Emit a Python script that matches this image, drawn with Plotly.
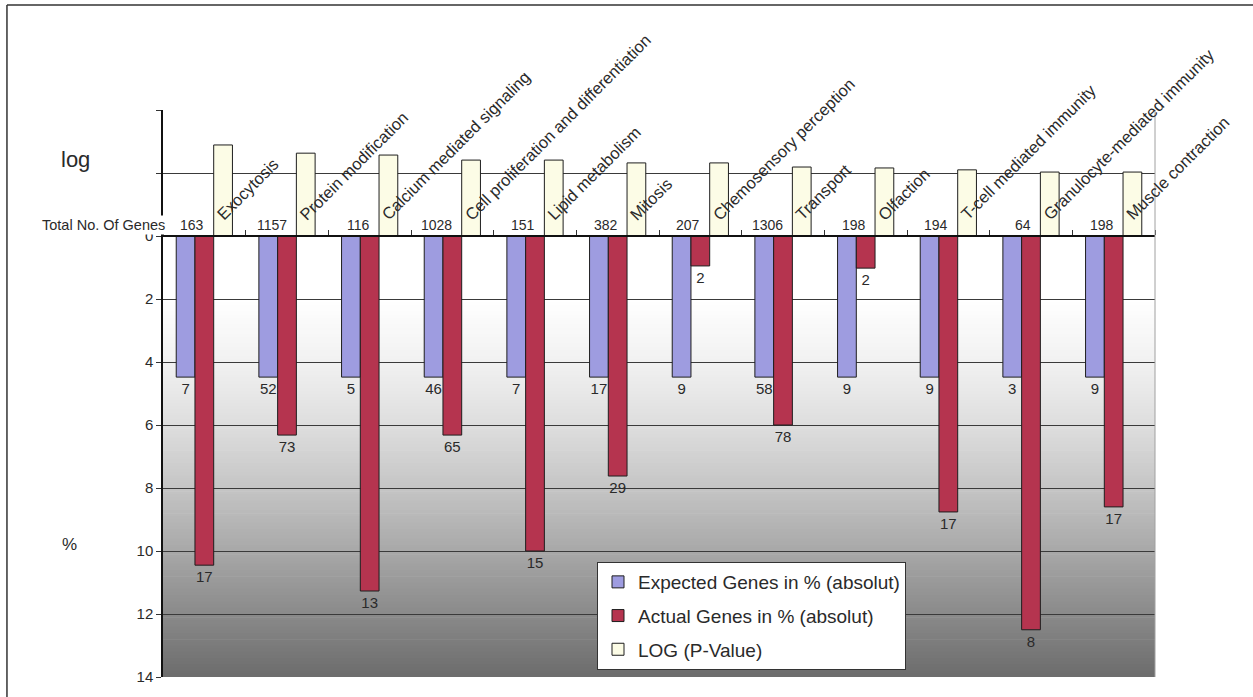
import numpy as np
import plotly.graph_objects as go

categories = ["Exocytosis", "Protein modification", "Calcium mediated signaling",
              "Cell proliferation and differentiation", "Lipid metabolism", "Mitosis",
              "Chemosensory perception", "Transport", "Olfaction",
              "T-cell mediated immunity", "Granulocyte-mediated immunity", "Muscle contraction"]
total_genes = [163, 1157, 116, 1028, 151, 382, 207, 1306, 198, 194, 64, 198]
expected_pct = [4.48] * 12
expected_abs = [7, 52, 5, 46, 7, 17, 9, 58, 9, 9, 3, 9]
actual_pct = [10.45, 6.32, 11.27, 6.32, 10.0, 7.62, 0.95, 6.0, 1.02, 8.76, 12.5, 8.6]
actual_abs = [17, 73, 13, 65, 15, 29, 2, 78, 2, 17, 8, 17]
log_p = [-2.89, -2.63, -2.57, -2.41, -2.41, -2.32, -2.32, -2.19, -2.16, -2.10, -2.03, -2.03]
y_ticks = [-4, -2, 0, 2, 4, 6, 8, 10, 12, 14]
y_ticktext = ["", "", "0", "2", "4", "6", "8", "10", "12", "14"]

FONT = "Arial, Liberation Sans, sans-serif"
TXT = "#2a2a2a"
EDGE = "#1e1e1e"

fig = go.Figure()
fig.add_bar(x=categories, y=expected_pct, name="Expected Genes in % (absolut)", legendgroup="e",
            marker=dict(color="#9e9ce0", line=dict(color=EDGE, width=1)),
            text=[str(v) for v in expected_abs], textposition="outside",
            textfont=dict(size=15, color=TXT, family=FONT), constraintext="none",
            cliponaxis=False)
fig.add_bar(x=categories, y=actual_pct, name="Actual Genes in % (absolut)", legendgroup="a",
            marker=dict(color="#b5344f", line=dict(color=EDGE, width=1)),
            text=[str(v) for v in actual_abs], textposition="outside",
            textfont=dict(size=15, color=TXT, family=FONT), constraintext="none",
            cliponaxis=False)
fig.add_bar(x=categories, y=log_p, name="LOG (P-Value)", legendgroup="l",
            marker=dict(color="#fcfce6", line=dict(color=EDGE, width=1)))

# background gradient (white -> gray) in the % region
shapes = []
gv = [2, 4, 6, 8, 10, 12, 14]
gg = [255, 241, 222, 197, 168, 138, 108]
step = 0.1
for v0 in np.arange(2, 14, step):
    g = int(round(np.interp(v0 + step / 2, gv, gg)))
    shapes.append(dict(type="rect", xref="paper", yref="y", x0=0, x1=1, y0=v0, y1=v0 + step + 0.02,
                       fillcolor=f"rgb({g},{g},{g})", line=dict(width=0), layer="below"))
# right border of plot area
shapes.append(dict(type="line", xref="paper", yref="paper", x0=1, x1=1, y0=0, y1=1,
                   line=dict(color="#a0a0a0", width=1)))
# outer frame (top & left)
shapes.append(dict(type="line", xref="paper", yref="paper", x0=-0.1573, x1=1.2, y0=1.1852, y1=1.1852,
                   line=dict(color="#333333", width=1.5)))
shapes.append(dict(type="line", xref="paper", yref="paper", x0=-0.1573, x1=-0.1573, y0=-0.1, y1=1.1852,
                   line=dict(color="#333333", width=1.5)))

annotations = []
for c, n in zip(categories, total_genes):
    annotations.append(dict(x=c, y=0, xref="x", yref="y", text=str(n), showarrow=False,
                            xanchor="right", yanchor="bottom", xshift=2, yshift=1,
                            font=dict(size=14, color=TXT, family=FONT)))
for c in categories:
    annotations.append(dict(x=c, y=0, xref="x", yref="y", text=c, showarrow=False,
                            textangle=-45, xanchor="left", yanchor="bottom", xshift=6, yshift=10,
                            font=dict(size=16.5, color=TXT, family=FONT)))
annotations.append(dict(x=0.004, y=0, xref="paper", yref="y", text="Total No. Of Genes", showarrow=False,
                        xanchor="right", yanchor="bottom", yshift=1, bgcolor="white",
                        font=dict(size=14.5, color=TXT, family=FONT)))
annotations.append(dict(x=-0.0887, y=0.912, xref="paper", yref="paper", text="log", showarrow=False,
                        xanchor="center", yanchor="middle", font=dict(size=22, color=TXT, family=FONT)))
annotations.append(dict(x=-0.094, y=0.233, xref="paper", yref="paper", text="%", showarrow=False,
                        xanchor="center", yanchor="middle", font=dict(size=17, color=TXT, family=FONT)))

fig.update_layout(
    width=1253, height=697,
    margin=dict(l=163, r=98, t=110, b=20),
    paper_bgcolor="white", plot_bgcolor="white",
    barmode="group", bargap=0.32, bargroupgap=0,
    font=dict(family=FONT, color=TXT),
    showlegend=True,
    legend=dict(x=0.4375, y=0.2028, xanchor="left", yanchor="top", bgcolor="white",
                bordercolor="#333333", borderwidth=1, font=dict(size=19, color=TXT, family=FONT),
                traceorder="grouped", tracegroupgap=6),
    xaxis=dict(type="category", categoryorder="array", categoryarray=categories,
               range=[-0.5, 11.5], anchor="free", position=1 - 4 / 18, side="top",
               showticklabels=False, ticks="outside", tickson="boundaries", ticklen=5,
               tickcolor="#333333", showline=True, linecolor="#111111", linewidth=1.5,
               showgrid=False, zeroline=False),
    yaxis=dict(range=[14, -4], tickmode="array", tickvals=y_ticks, ticktext=y_ticktext,
               showgrid=True, gridcolor="#3a3a3a", gridwidth=1, zeroline=False,
               ticks="outside", ticklen=5, tickcolor="#333333", showline=True,
               linecolor="#111111", linewidth=1.5, tickfont=dict(size=15, color=TXT, family=FONT)),
    shapes=shapes, annotations=annotations,
)

fig.write_html("out.html")
